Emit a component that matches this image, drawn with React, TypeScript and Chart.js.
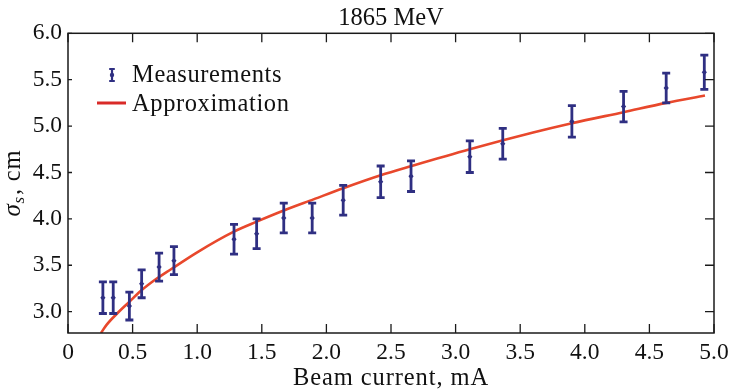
import React, { useEffect, useRef } from 'react';
import { Chart, registerables } from 'chart.js';

Chart.register(...registerables);

// Measurements (beam current, mA -> bunch length, cm) with symmetric errors
const measX = [0.27, 0.35, 0.475, 0.57, 0.705, 0.82, 1.285, 1.46, 1.67, 1.89, 2.13, 2.42, 2.655, 3.11, 3.365, 3.9, 4.3, 4.63, 4.925];
const measY = [3.15, 3.15, 3.06, 3.30, 3.48, 3.55, 3.78, 3.84, 4.01, 4.01, 4.20, 4.40, 4.46, 4.67, 4.81, 5.05, 5.21, 5.41, 5.58];
const measErr = [0.17, 0.17, 0.15, 0.15, 0.15, 0.15, 0.16, 0.16, 0.16, 0.16, 0.16, 0.17, 0.165, 0.17, 0.165, 0.17, 0.165, 0.16, 0.185];

// Approximation curve
const approxX = [0.255, 0.3, 0.38, 0.47, 0.56, 0.69, 0.8, 1.0, 1.28, 1.46, 1.67, 1.9, 2.13, 2.42, 2.66, 3.11, 3.6, 3.9, 4.3, 4.63, 4.93];
const approxY = [2.77, 2.86, 2.98, 3.1, 3.22, 3.36, 3.46, 3.64, 3.86, 3.97, 4.09, 4.21, 4.33, 4.47, 4.57, 4.75, 4.93, 5.03, 5.15, 5.25, 5.33];

const xTicks = [0, 0.5, 1, 1.5, 2, 2.5, 3, 3.5, 4, 4.5, 5];
const xTickLabels = ['0', '0.5', '1.0', '1.5', '2.0', '2.5', '3.0', '3.5', '4.0', '4.5', '5.0'];
const yTicks = [3, 3.5, 4, 4.5, 5, 5.5, 6];
const yTickLabels = ['3.0', '3.5', '4.0', '4.5', '5.0', '5.5', '6.0'];

const titleText = '1865 MeV';
const xTitleText = 'Beam current, mA';
const legendLabels = ['Measurements', 'Approximation'];

const FONT = '"Liberation Serif", "Times New Roman", serif';
const NAVY = '#2f2f82';
const RED = '#e8482c';
const LEGEND_RED = '#d92a28';
const INK = '#111111';

const decorPlugin = {
  id: 'decor',
  afterDatasetsDraw(chart: any) {
    const { ctx, scales } = chart;
    const xs = scales.x;
    const ys = scales.y;
    ctx.save();
    ctx.strokeStyle = NAVY;
    ctx.fillStyle = NAVY;
    ctx.lineWidth = 2.8;
    for (let i = 0; i < measX.length; i++) {
      const px = xs.getPixelForValue(measX[i]);
      const pt = ys.getPixelForValue(measY[i] + measErr[i]);
      const pb = ys.getPixelForValue(measY[i] - measErr[i]);
      const pc = ys.getPixelForValue(measY[i]);
      ctx.beginPath();
      ctx.moveTo(px, pt);
      ctx.lineTo(px, pb);
      ctx.moveTo(px - 4, pt);
      ctx.lineTo(px + 4, pt);
      ctx.moveTo(px - 4, pb);
      ctx.lineTo(px + 4, pb);
      ctx.stroke();
      ctx.beginPath();
      ctx.moveTo(px, pc - 3);
      ctx.lineTo(px + 2.6, pc);
      ctx.lineTo(px, pc + 3);
      ctx.lineTo(px - 2.6, pc);
      ctx.closePath();
      ctx.fill();
    }
    ctx.restore();
  },
  afterDraw(chart: any) {
    const { ctx, chartArea, scales } = chart;
    const { left, right, top, bottom } = chartArea;
    const xs = scales.x;
    const ys = scales.y;
    ctx.save();
    // frame
    ctx.strokeStyle = '#1a1a1a';
    ctx.lineWidth = 1.5;
    ctx.strokeRect(left, top, right - left, bottom - top);
    // inward ticks
    ctx.lineWidth = 1.3;
    ctx.beginPath();
    xTicks.forEach((v) => {
      const px = xs.getPixelForValue(v);
      ctx.moveTo(px, bottom);
      ctx.lineTo(px, bottom - 9);
      ctx.moveTo(px, top);
      ctx.lineTo(px, top + 9);
    });
    yTicks.forEach((v) => {
      const py = ys.getPixelForValue(v);
      ctx.moveTo(right, py);
      ctx.lineTo(right - 9, py);
      ctx.moveTo(left, py);
      ctx.lineTo(left + 4, py);
    });
    ctx.stroke();

    // legend
    ctx.strokeStyle = NAVY;
    ctx.fillStyle = NAVY;
    ctx.lineWidth = 2.2;
    const lx = 112;
    ctx.beginPath();
    ctx.moveTo(lx, 69);
    ctx.lineTo(lx, 81);
    ctx.moveTo(lx - 2.8, 69);
    ctx.lineTo(lx + 2.8, 69);
    ctx.moveTo(lx - 2.8, 81);
    ctx.lineTo(lx + 2.8, 81);
    ctx.stroke();
    ctx.beginPath();
    ctx.arc(lx, 75, 2.2, 0, Math.PI * 2);
    ctx.fill();

    ctx.strokeStyle = LEGEND_RED;
    ctx.lineWidth = 3;
    ctx.beginPath();
    ctx.moveTo(97, 103);
    ctx.lineTo(126, 103);
    ctx.stroke();

    ctx.fillStyle = INK;
    ctx.font = `24.5px ${FONT}`;
    ctx.textAlign = 'left';
    ctx.textBaseline = 'alphabetic';
    (ctx as any).letterSpacing = '0.6px';
    ctx.fillText(legendLabels[0], 132, 82);
    ctx.fillText(legendLabels[1], 132, 111);

    // x-axis title
    (ctx as any).letterSpacing = '0.9px';
    ctx.textAlign = 'center';
    ctx.fillText(xTitleText, (left + right) / 2, 385);

    // y-axis title: sigma_s, cm (rotated)
    (ctx as any).letterSpacing = '0.8px';
    ctx.textAlign = 'left';
    const cy = (top + bottom) / 2;
    ctx.translate(20, cy);
    ctx.rotate(-Math.PI / 2);
    const f1 = `italic 25px ${FONT}`;
    const f2 = `italic 17px ${FONT}`;
    const f3 = `24.5px ${FONT}`;
    ctx.font = f1;
    const w1 = ctx.measureText('σ').width;
    ctx.font = f2;
    const w2 = ctx.measureText('s').width;
    ctx.font = f3;
    const w3 = ctx.measureText(', cm').width;
    const total = w1 + w2 + 1 + w3;
    let cx = -total / 2;
    ctx.font = f1;
    ctx.fillText('σ', cx, 0);
    cx += w1;
    ctx.font = f2;
    ctx.fillText('s', cx, 4);
    cx += w2 + 1;
    ctx.font = f3;
    ctx.fillText(', cm', cx, 0);
    (ctx as any).letterSpacing = '0px';
    ctx.restore();
  },
};

export default function App() {
  const canvasRef = useRef<HTMLCanvasElement | null>(null);

  useEffect(() => {
    const canvas = canvasRef.current;
    if (!canvas) return;
    const chart = new Chart(canvas, {
      type: 'scatter',
      data: {
        datasets: [
          {
            label: legendLabels[0],
            data: measX.map((x, i) => ({ x, y: measY[i] })),
            pointRadius: 0,
            pointHoverRadius: 0,
            showLine: false,
            order: 1,
          },
          {
            label: legendLabels[1],
            data: approxX.map((x, i) => ({ x, y: approxY[i] })),
            showLine: true,
            borderColor: RED,
            backgroundColor: RED,
            borderWidth: 2.6,
            pointRadius: 0,
            cubicInterpolationMode: 'monotone',
            order: 2,
          },
        ],
      },
      options: {
        animation: false,
        responsive: false,
        devicePixelRatio: 1,
        layout: { padding: { left: 0, right: 17, top: 0, bottom: 0 } },
        plugins: {
          legend: { display: false },
          tooltip: { enabled: false },
          title: {
            display: true,
            text: titleText,
            fullSize: false,
            color: INK,
            font: { family: FONT, size: 24.5, weight: 'normal', lineHeight: 1.1 },
            padding: { top: 5, bottom: 1.35 },
          },
        },
        scales: {
          x: {
            type: 'linear',
            min: 0,
            max: 5,
            afterBuildTicks: (s: any) => {
              s.ticks = xTicks.map((v) => ({ value: v }));
            },
            afterFit: (s: any) => {
              s.height = 56;
              s.paddingRight = 0;
              s.paddingLeft = 0;
            },
            grid: { display: false, drawTicks: false },
            border: { display: false },
            ticks: {
              color: INK,
              padding: 6,
              maxRotation: 0,
              autoSkip: false,
              font: { family: FONT, size: 23.5 },
              callback: (_v: any, i: number) => xTickLabels[i],
            },
            title: { display: false },
          },
          y: {
            type: 'linear',
            min: 2.77,
            max: 6,
            afterBuildTicks: (s: any) => {
              s.ticks = yTicks.map((v) => ({ value: v }));
            },
            afterFit: (s: any) => {
              s.width = 68;
              s.paddingTop = 0;
              s.paddingBottom = 0;
            },
            grid: { display: false, drawTicks: false },
            border: { display: false },
            ticks: {
              color: INK,
              padding: 6,
              autoSkip: false,
              font: { family: FONT, size: 23.5 },
              callback: (_v: any, i: number) => yTickLabels[i],
            },
          },
        },
      },
      plugins: [decorPlugin],
    } as any);
    return () => chart.destroy();
  }, []);

  return (
    <div style={{ position: 'absolute', left: 0, top: 0, width: 731, height: 389, background: '#fff' }}>
      <canvas ref={canvasRef} width={731} height={389} style={{ display: 'block', width: 731, height: 389 }} />
    </div>
  );
}
